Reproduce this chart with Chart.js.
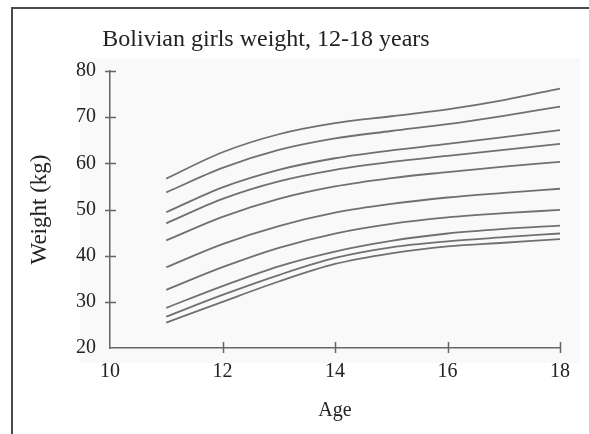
<!DOCTYPE html>
<html>
<head>
<meta charset="utf-8">
<script src="https://cdn.jsdelivr.net/npm/chart.js@4/dist/chart.umd.min.js"></script>
<style>
  html, body { margin: 0; padding: 0; background: #fff; }
  #wrap { width: 589px; height: 434px; }
</style>
</head>
<body>
<div id="wrap"><canvas id="chart" width="589" height="434"></canvas></div>
<script>
// Chart text
const chartTitle = 'Bolivian girls weight, 12-18 years';
const xAxisTitle = 'Age';
const yAxisTitle = 'Weight (kg)';

// Ages (years) at which each reference curve is given
const ages = [11, 12, 13, 14, 15, 16, 17, 18];

// Weight reference curves (kg), listed from the highest to the lowest
const curve1  = [56.7, 62.4, 66.3, 68.7, 70.2, 71.7, 73.7, 76.2];
const curve2  = [53.7, 59.0, 62.9, 65.4, 67.0, 68.5, 70.3, 72.3];
const curve3  = [49.4, 54.8, 58.6, 61.1, 62.8, 64.2, 65.7, 67.2];
const curve4  = [47.0, 52.3, 56.1, 58.6, 60.3, 61.6, 62.9, 64.2];
const curve5  = [43.3, 48.4, 52.3, 55.0, 56.8, 58.1, 59.3, 60.3];
const curve6  = [37.5, 42.5, 46.4, 49.3, 51.2, 52.6, 53.6, 54.5];
const curve7  = [32.6, 37.5, 41.7, 44.8, 46.9, 48.3, 49.2, 49.9];
const curve8  = [28.7, 33.4, 37.7, 40.9, 43.2, 44.8, 45.8, 46.5];
const curve9  = [26.8, 31.5, 35.8, 39.5, 41.8, 43.1, 44.0, 44.8];
const curve10 = [25.5, 30.0, 34.4, 38.2, 40.5, 42.0, 42.8, 43.6];

// Axis tick values
const xTicks = [10, 12, 14, 16, 18];
const yTicks = [20, 30, 40, 50, 60, 70, 80];

const curves = [curve1, curve2, curve3, curve4, curve5, curve6, curve7, curve8, curve9, curve10];

const SERIF = '"Liberation Serif", "Times New Roman", serif';
const INK = '#222';
const AXIS = '#666';
const LINE = '#707070';

// Page frame, panel tint, crossing tick marks and the heading
const decorations = {
  id: 'decorations',
  beforeDraw(chart) {
    const { ctx, chartArea: a } = chart;
    ctx.save();
    ctx.fillStyle = '#ffffff';
    ctx.fillRect(0, 0, chart.width, chart.height);
    ctx.fillStyle = '#f9f9f9';
    ctx.fillRect(a.left - 30, a.top - 13, a.right - a.left + 50, a.bottom - a.top + 28);
    // frame: top and left edges
    ctx.strokeStyle = '#4a4a4a';
    ctx.lineWidth = 2;
    ctx.beginPath();
    ctx.moveTo(12, chart.height);
    ctx.lineTo(12, 8);
    ctx.lineTo(chart.width, 8);
    ctx.stroke();
    ctx.restore();
  },
  afterDraw(chart) {
    const { ctx, chartArea: a, scales } = chart;
    ctx.save();
    ctx.strokeStyle = AXIS;
    ctx.lineWidth = 1.5;
    ctx.beginPath();
    xTicks.slice(1).forEach(v => {
      const x = Math.round(scales.x.getPixelForValue(v)) + 0.5;
      ctx.moveTo(x, a.bottom - 6);
      ctx.lineTo(x, a.bottom + 5);
    });
    yTicks.slice(1).forEach(v => {
      const y = Math.round(scales.y.getPixelForValue(v)) + 0.5;
      ctx.moveTo(a.left - 5, y);
      ctx.lineTo(a.left + 6, y);
    });
    ctx.stroke();
    ctx.fillStyle = INK;
    ctx.font = '24px ' + SERIF;
    ctx.textAlign = 'center';
    ctx.textBaseline = 'alphabetic';
    ctx.fillText(chartTitle, 266, 46);
    ctx.restore();
  }
};

new Chart(document.getElementById('chart'), {
  type: 'line',
  data: {
    datasets: curves.map((c, i) => ({
      label: 'curve' + (i + 1),
      data: ages.map((age, j) => ({ x: age, y: c[j] })),
      borderColor: LINE,
      borderWidth: 1.8,
      pointRadius: 0,
      fill: false,
      cubicInterpolationMode: 'monotone'
    }))
  },
  options: {
    responsive: false,
    animation: false,
    devicePixelRatio: 1,
    layout: { padding: { left: 0, right: 29, top: 71, bottom: 0 } },
    plugins: { legend: { display: false }, title: { display: false }, tooltip: { enabled: false } },
    scales: {
      x: {
        type: 'linear',
        min: 10, max: 18,
        afterBuildTicks: s => { s.ticks = xTicks.map(v => ({ value: v })); },
        afterFit: s => { s.height = 86; },
        grid: { display: false, drawTicks: false },
        border: { display: true, color: AXIS, width: 1.5 },
        ticks: { color: INK, font: { family: SERIF, size: 20 }, padding: 12, maxRotation: 0 },
        title: { display: true, text: xAxisTitle, color: INK, font: { family: SERIF, size: 20 }, padding: { top: 0, bottom: 11 } }
      },
      y: {
        type: 'linear',
        min: 20, max: 80,
        afterBuildTicks: s => { s.ticks = yTicks.map(v => ({ value: v })); },
        afterFit: s => { s.width = 110; },
        grid: { display: false, drawTicks: false },
        border: { display: true, color: AXIS, width: 1.5 },
        ticks: { color: INK, font: { family: SERIF, size: 20 }, padding: 14 },
        title: { display: true, text: yAxisTitle, color: INK, font: { family: SERIF, size: 23 }, padding: { top: 26, bottom: 0 } }
      }
    }
  },
  plugins: [decorations]
});
</script>
</body>
</html>
